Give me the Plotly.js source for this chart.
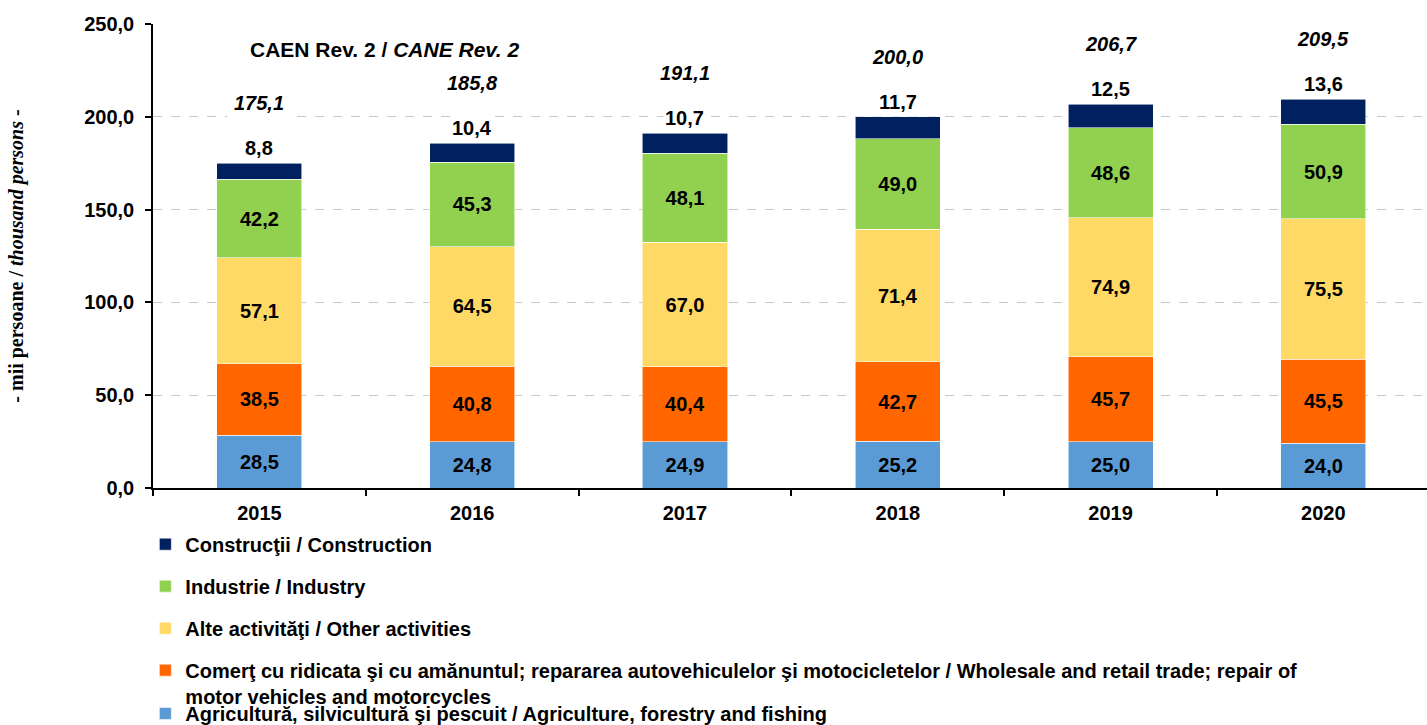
<!DOCTYPE html>
<html>
<head>
<meta charset="utf-8">
<script src="https://cdn.plot.ly/plotly-3.0.1.min.js"></script>
<style>html,body{margin:0;padding:0;background:#fff;}</style>
</head>
<body>
<div id="chart" style="width:1427px;height:725px;"></div>
<script>
var years = ['2015', '2016', '2017', '2018', '2019', '2020'];
var agriculture = [28.5, 24.8, 24.9, 25.2, 25.0, 24.0];
var trade = [38.5, 40.8, 40.4, 42.7, 45.7, 45.5];
var other = [57.1, 64.5, 67.0, 71.4, 74.9, 75.5];
var industry = [42.2, 45.3, 48.1, 49.0, 48.6, 50.9];
var construction = [8.8, 10.4, 10.7, 11.7, 12.5, 13.6];
var totals = [175.1, 185.8, 191.1, 200.0, 206.7, 209.5];
var yTicks = [0, 50, 100, 150, 200, 250];

var names = {
  agriculture: 'Agricultură, silvicultură şi pescuit / Agriculture, forestry and fishing',
  trade: 'Comerţ cu ridicata şi cu amănuntul; repararea autovehiculelor şi motocicletelor / Wholesale and retail trade; repair of<br>motor vehicles and motorcycles',
  other: 'Alte activităţi / Other activities',
  industry: 'Industrie / Industry',
  construction: 'Construcţii / Construction'
};

var colors = {
  agriculture: '#5B9BD5',
  trade: '#FF6600',
  other: '#FFD966',
  industry: '#92D050',
  construction: '#002060'
};

var SANS = 'Liberation Sans, Arial, sans-serif';
var fmt = function (v) { return v.toFixed(1).replace('.', ','); };

function barTrace(key, values, showText, legendName, rank) {
  return {
    type: 'bar',
    x: years,
    y: values,
    name: names[key],
    legendgroup: key,
    legend: legendName,
    legendrank: rank,
    width: 0.4,
    marker: { color: colors[key], line: { color: 'rgba(255,255,255,0.7)', width: 0.8 } },
    text: showText ? values.map(fmt) : null,
    texttemplate: showText ? '%{text}' : null,
    textposition: showText ? 'inside' : 'none',
    insidetextanchor: 'middle',
    textangle: 0,
    constraintext: 'none',
    textfont: { family: SANS, size: 20, color: '#000', weight: 'bold' },
    hoverinfo: 'x+y+name'
  };
}

var data = [
  barTrace('agriculture', agriculture, true, 'legend2', 5),
  barTrace('trade', trade, true, 'legend', 4),
  barTrace('other', other, true, 'legend', 3),
  barTrace('industry', industry, true, 'legend', 2),
  barTrace('construction', construction, false, 'legend', 1)
];

var annotations = [];
years.forEach(function (yr, i) {
  annotations.push({
    x: i, y: totals[i], xref: 'x', yref: 'y',
    text: fmt(construction[i]), showarrow: false,
    yanchor: 'middle', yshift: 15,
    bgcolor: '#fff', borderpad: 1,
    font: { family: SANS, size: 20, color: '#000', weight: 'bold' }
  });
  annotations.push({
    x: i, y: totals[i], xref: 'x', yref: 'y',
    text: '<i>' + fmt(totals[i]) + '</i>', showarrow: false,
    yanchor: 'middle', yshift: 60,
    bgcolor: '#fff', borderpad: 6,
    font: { family: SANS, size: 20, color: '#000', weight: 'bold' }
  });
});
annotations.push({
  xref: 'paper', yref: 'paper', x: 0.182, y: 0.944,
  text: 'CAEN Rev. 2 / <i>CANE Rev. 2</i>', showarrow: false,
  xanchor: 'center', yanchor: 'middle',
  font: { family: SANS, size: 21, color: '#000', weight: 'bold' }
});

var layout = {
  width: 1427, height: 725,
  margin: { l: 153, r: 0, t: 24, b: 237, pad: 0, autoexpand: false },
  paper_bgcolor: '#fff', plot_bgcolor: '#fff',
  separators: ',.',
  barmode: 'stack',
  bargap: 0.6,
  showlegend: true,
  xaxis: {
    type: 'category',
    range: [-0.5, 5.487],
    showline: true, linecolor: '#000', linewidth: 1.5,
    ticks: 'outside', tickson: 'boundaries', ticklen: 6, tickcolor: '#000', tickwidth: 1.5,
    ticklabelstandoff: 6,
    showgrid: false,
    tickfont: { family: SANS, size: 20, color: '#000', weight: 'bold' },
    fixedrange: true
  },
  yaxis: {
    range: [0, 250],
    tickvals: yTicks,
    tickformat: '.1f',
    showline: true, linecolor: '#000', linewidth: 1.5,
    ticks: 'outside', ticklen: 6, tickcolor: '#000', tickwidth: 1.5,
    ticklabelstandoff: 7,
    showgrid: true, gridcolor: '#c8c8c8', griddash: 'dash', gridwidth: 1,
    zeroline: false,
    tickfont: { family: SANS, size: 20, color: '#000', weight: 'bold' },
    title: {
      text: '- mii persoane / <i>thousand persons</i> -',
      font: { family: 'Liberation Serif, Times New Roman, serif', size: 20, color: '#000', weight: 'bold' },
      standoff: 55
    },
    fixedrange: true
  },
  legend: {
    orientation: 'v',
    x: -0.006, xanchor: 'left',
    y: -0.079, yanchor: 'top',
    traceorder: 'grouped',
    tracegroupgap: 13,
    valign: 'top',
    bgcolor: 'rgba(0,0,0,0)',
    font: { family: SANS, size: 20, color: '#000', weight: 'bold' }
  },
  legend2: {
    orientation: 'v',
    x: -0.006, xanchor: 'left',
    y: -0.528, yanchor: 'bottom',
    valign: 'top',
    bgcolor: 'rgba(0,0,0,0)',
    font: { family: SANS, size: 20, color: '#000', weight: 'bold' }
  },
  annotations: annotations
};

Plotly.newPlot('chart', data, layout, { displayModeBar: false });
</script>
</body>
</html>
